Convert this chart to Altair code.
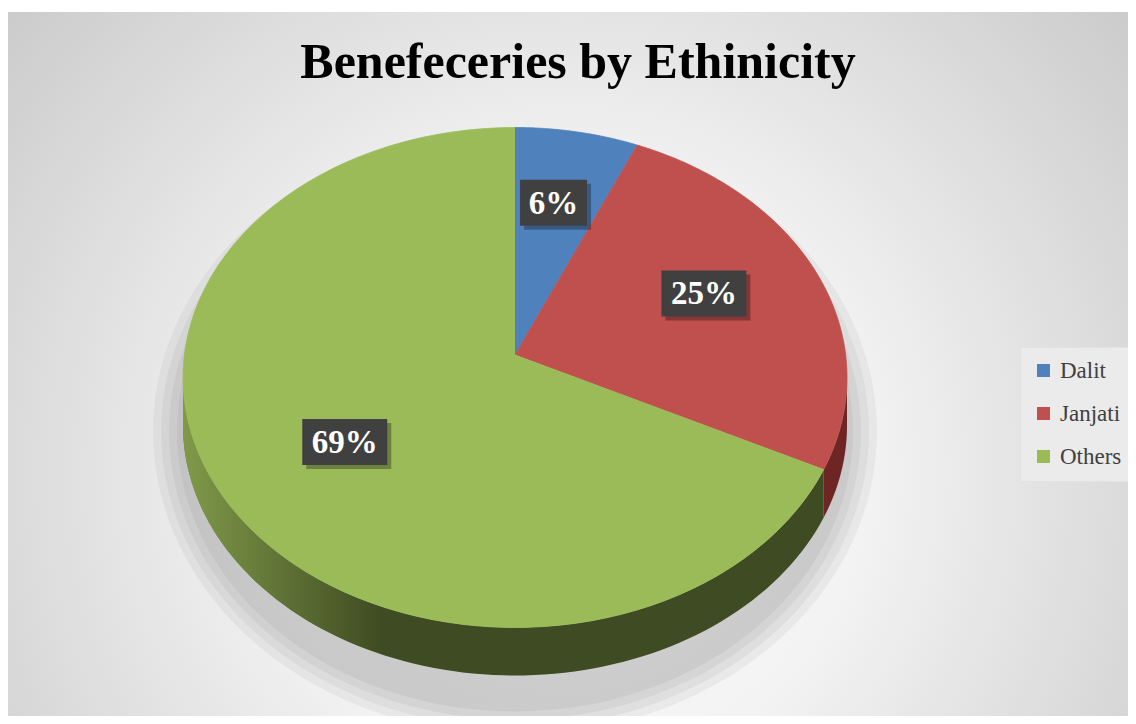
import altair as alt
import pandas as pd

# ---------------- data ----------------
TITLE = "Benefeceries by Ethinicity"
CATEGORIES = ["Dalit", "Janjati", "Others"]
SHARES = [6, 25, 69]

# ---------------- styles ----------------
TOP_COLORS = ["#4F81BD", "#C0504D", "#9BBB59"]
SIDE_COLORS = ["#2E4C73", "#6E2624", "#3F4B22"]
FONT = "Liberation Serif"

W, H, PAD_TOP = 1120, 704, 4
CX, CY = 507, 365.5          # ellipse centre inside plot (px)
RX, RY = 332, 250            # ellipse radii (px)
XMIN, XMAX = -CX / RX, (W - CX) / RX
YMIN, YMAX = -(H - CY) / RY, CY / RY
VDY = 0.09                   # perspective lift of the pie centre
DEPTH = 0.192                # thickness of the 3-D pie
N = 90                       # points per arc
LR = 0.62                    # label radius
CHAR_PX, BOX_PAD_PX, BOX_H_PX = 18, 31, 46
SHADOW_GROW = [30, 22, 14, 6]

df = pd.DataFrame({"category": CATEGORIES, "share": SHARES,
                   "idx": list(range(len(CATEGORIES)))})

xs = alt.Scale(domain=[XMIN, XMAX], nice=False, zero=False)
ys = alt.Scale(domain=[YMIN, YMAX], nice=False, zero=False)


def X(f):
    return alt.X(f"{f}:Q", scale=xs, axis=None)


def Y(f):
    return alt.Y(f"{f}:Q", scale=ys, axis=None)


base = (
    alt.Chart(df)
    .transform_joinaggregate(total="sum(share)")
    .transform_window(cum="sum(share)", frame=[None, 0],
                      sort=[alt.SortField("idx", order="ascending")])
    .transform_calculate(a0="2*PI*(datum.cum-datum.share)/datum.total")
    .transform_calculate(a1="2*PI*datum.cum/datum.total")
)

# background
bg = alt.Chart(alt.Data(values=[{"a": 1}])).mark_rect(
    fill=alt.RadialGradient(
        gradient="radial",
        x1=0.5, y1=0.6, r1=0, x2=0.5, y2=0.6, r2=0.78,
        stops=[alt.GradientStop(offset=0, color="#ffffff"),
               alt.GradientStop(offset=0.35, color="#f2f2f2"),
               alt.GradientStop(offset=1, color="#bebebe")],
    )
).encode(x=alt.value(0), x2=alt.value(W), y=alt.value(0), y2=alt.value(H))

# soft shadow under the pie
shadows = []
for g in SHADOW_GROW:
    sx = 1 + g / RX
    sy = 1 + DEPTH / 2 + g / RY
    shadows.append(
        alt.Chart(alt.sequence(0, 181, as_="i"))
        .transform_calculate(t="2*PI*datum.i/180")
        .transform_calculate(x=f"{sx}*sin(datum.t)",
                             y=f"{-DEPTH / 2 - 0.12}+{sy}*cos(datum.t)")
        .mark_line(filled=True, fill="#000000", fillOpacity=0.045, strokeWidth=0)
        .encode(x=X("x"), y=Y("y"), order="i:Q")
    )

# side wall (front half only)
side = (
    base.transform_calculate(lo="max(datum.a0, PI/2)")
    .transform_calculate(hi="min(datum.a1, 3*PI/2)")
    .transform_filter("datum.lo < datum.hi")
    .transform_calculate(seq=f"sequence(0, {2 * N + 2})")
    .transform_flatten(["seq"])
    .transform_calculate(j=f"datum.seq <= {N} ? datum.seq : {2 * N + 1} - datum.seq")
    .transform_calculate(t=f"datum.lo + (datum.hi - datum.lo) * datum.j / {N}")
    .transform_calculate(x="sin(datum.t)")
    .transform_calculate(y=f"cos(datum.t) - (datum.seq <= {N} ? 0 : {DEPTH})")
    .mark_line(filled=True, strokeWidth=0)
    .encode(
        x=X("x"), y=Y("y"),
        color=alt.Color("category:N", scale=alt.Scale(domain=CATEGORIES, range=SIDE_COLORS), legend=None),
        order="seq:Q",
    )
)

# light on the left part of the wall
shade = (
    alt.Chart(alt.sequence(0, 2 * N + 2, as_="seq"))
    .transform_calculate(j=f"datum.seq <= {N} ? datum.seq : {2 * N + 1} - datum.seq")
    .transform_calculate(t=f"PI + (PI/2) * datum.j / {N}")
    .transform_calculate(x="sin(datum.t)")
    .transform_calculate(y=f"cos(datum.t) - (datum.seq <= {N} ? 0 : {DEPTH})")
    .mark_line(
        filled=True, strokeWidth=0,
        fill=alt.LinearGradient(
            gradient="linear", x1=0, y1=0, x2=1, y2=0,
            stops=[alt.GradientStop(offset=0, color="rgba(155,187,89,0.7)"),
                   alt.GradientStop(offset=0.6, color="rgba(155,187,89,0)")],
        ),
    )
    .encode(x=X("x"), y=Y("y"), order="seq:Q")
)

# top face
top = (
    base.transform_calculate(seq=f"sequence(-1, {N + 1})")
    .transform_flatten(["seq"])
    .transform_calculate(t=f"datum.a0 + (datum.a1 - datum.a0) * datum.seq / {N}")
    .transform_calculate(x="datum.seq < 0 ? 0 : sin(datum.t)")
    .transform_calculate(y=f"datum.seq < 0 ? {VDY} : cos(datum.t)")
    .mark_line(filled=True, strokeWidth=0.8)
    .encode(
        x=X("x"), y=Y("y"),
        color=alt.Color(
            "category:N",
            scale=alt.Scale(domain=CATEGORIES, range=TOP_COLORS),
            legend=alt.Legend(
                title=None, orient="none", legendX=1012, legendY=335,
                symbolType="square", symbolSize=170, symbolStrokeWidth=0,
                labelFont=FONT, labelFontSize=23, labelColor="#404040",
                labelOffset=5, rowPadding=19, padding=12,
                fillColor="#ebebeb", strokeColor="#e2e2e2",
            ),
        ),
        stroke=alt.Stroke("category:N", scale=alt.Scale(domain=CATEGORIES, range=TOP_COLORS), legend=None),
        order="seq:Q",
    )
)

# data labels
lab = (
    base.transform_calculate(m="(datum.a0 + datum.a1) / 2")
    .transform_calculate(lx=f"{LR} * sin(datum.m)")
    .transform_calculate(ly=f"{VDY} + {LR} * cos(datum.m)")
    .transform_calculate(label="datum.share + '%'")
    .transform_calculate(hw=f"(length(datum.label) * {CHAR_PX} + {BOX_PAD_PX}) / 2 / {RX}")
    .transform_calculate(hh=f"{BOX_H_PX} / 2 / {RY}")
    .transform_calculate(bx1="datum.lx - datum.hw", bx2="datum.lx + datum.hw",
                         by1="datum.ly - datum.hh", by2="datum.ly + datum.hh")
)
box_shadow = lab.mark_rect(color="#000000", opacity=0.3, xOffset=4, x2Offset=4,
                           yOffset=4, y2Offset=4).encode(
    x=X("bx1"), x2="bx2:Q", y=Y("by1"), y2="by2:Q")
box = lab.mark_rect(color="#404040").encode(
    x=X("bx1"), x2="bx2:Q", y=Y("by1"), y2="by2:Q")
text = lab.mark_text(font=FONT, fontWeight="bold", fontSize=33, color="white",
                     align="center", baseline="middle", dy=1).encode(
    x=X("lx"), y=Y("ly"), text="label:N")

chart = (
    alt.layer(bg, *shadows, side, shade, top, box_shadow, box, text)
    .resolve_scale(color="independent", stroke="independent")
    .properties(
        width=W, height=H,
        padding={"left": 0, "right": 0, "top": PAD_TOP, "bottom": 0},
        autosize=alt.AutoSizeParams(type="none"),
        title=alt.Title(TITLE, font=FONT, fontSize=50, fontWeight="bold",
                        color="#000000", anchor="middle", baseline="alphabetic",
                        offset=0, dy=116, dx=10),
    )
    .configure_view(stroke=None)
)

chart.save("out.html", embed_options={"renderer": "svg", "actions": False})
